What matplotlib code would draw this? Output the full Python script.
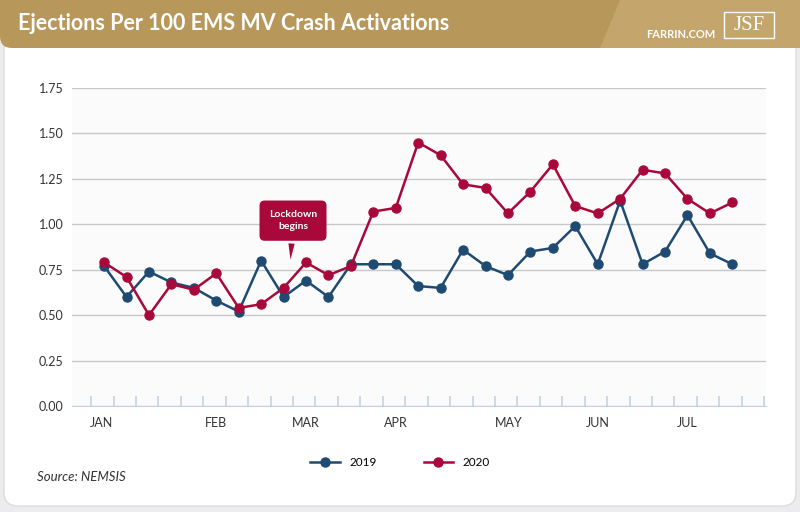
import matplotlib
matplotlib.use("Agg")
import matplotlib.pyplot as plt
from matplotlib.patches import FancyBboxPatch, Rectangle, Polygon
import numpy as np

months = ["JAN", "FEB", "MAR", "APR", "MAY", "JUN", "JUL"]
month_pos = [-0.13, 5, 9, 13, 18.05, 22, 26]
v2019 = [0.77,0.60,0.74,0.68,0.65,0.58,0.52,0.80,0.60,0.69,0.60,0.78,0.78,0.78,0.66,0.65,0.86,0.77,0.72,0.85,0.87,0.99,0.78,1.13,0.78,0.85,1.05,0.84,0.78]
v2020 = [0.79,0.71,0.50,0.67,0.64,0.73,0.54,0.56,0.65,0.79,0.72,0.77,1.07,1.09,1.45,1.38,1.22,1.20,1.06,1.18,1.33,1.10,1.06,1.14,1.30,1.28,1.14,1.06,1.12]
yticks = [0, 0.25, 0.5, 0.75, 1.0, 1.25, 1.5, 1.75]

W, H = 800, 512
fig = plt.figure(figsize=(W/100, H/100), dpi=100)
fig.patch.set_facecolor("#ececee")
bg = fig.add_axes([0, 0, 1, 1]); bg.set_xlim(0, W); bg.set_ylim(H, 0); bg.axis("off")
bg.add_patch(FancyBboxPatch((4, 30), W-8, H-36, boxstyle="round,pad=0,rounding_size=14", fc="white", ec="#dddddd", lw=1))
bg.add_patch(FancyBboxPatch((0, 0), W, 48, boxstyle="round,pad=0,rounding_size=12", fc="#b7975a", ec="none"))
bg.add_patch(Rectangle((0, 0), W, 20, fc="#b7975a", ec="none"))
bg.add_patch(Polygon([[620, 0], [800, 0], [800, 48], [600, 48]], fc="#c4a66c", ec="none"))
bg.text(18, 24, "Ejections Per 100 EMS MV Crash Activations", color="white", fontsize=15.5, fontweight="bold", va="center", family="Lato")
bg.text(715, 34, "FARRIN.COM", color="white", fontsize=8, fontweight="bold", ha="right", va="center", family="Lato")
bg.add_patch(Rectangle((724, 12), 50, 26, fc="none", ec="white", lw=1))
bg.text(749, 25, "JSF", color="white", fontsize=15, ha="center", va="center", family="Liberation Serif")
bg.text(37, 477, "Source: NEMSIS", fontsize=9.5, style="italic", va="center", color="#333333", family="Lato")

x0, x1, y0, y1 = 72, 766, 88, 406
ax = fig.add_axes([x0/W, 1-y1/H, (x1-x0)/W, (y1-y0)/H])
ax.set_facecolor("#fbfbfc")
x = np.arange(len(v2019))
c19, c20 = "#1f4a72", "#a8083a"
ax.plot(x, v2019, "-o", color=c19, lw=1.8, ms=6.5, label="2019", zorder=3)
ax.plot(x, v2020, "-o", color=c20, lw=1.8, ms=6.5, label="2020", zorder=3)
ax.set_xlim(-1.43, 29.5); ax.set_ylim(0, 1.75)
ax.set_yticks(yticks); ax.set_yticklabels([f"{t:.2f}" for t in yticks], fontsize=9, family="Lato", color="#333333")
ax.grid(axis="y", color="#c8c8cc", lw=1)
ax.set_axisbelow(True)
ax.set_xticks(np.arange(-0.58, 29.5, 1), minor=True)
ax.set_xticks(month_pos); ax.set_xticklabels(months, fontsize=9, family="Lato", color="#333333")
ax.tick_params(axis="x", which="major", length=0, pad=8)
ax.tick_params(axis="x", which="minor", length=7, color="#c5d3e3", direction="in", width=1.2)
ax.tick_params(axis="y", length=0, pad=6)
for s in ["top", "right", "left"]:
    ax.spines[s].set_visible(False)
ax.spines["bottom"].set_color("#c5d3e3")
# callout
ax.annotate("Lockdown\nbegins", xy=(8.3, 0.79), xytext=(8.42, 1.02), ha="center", va="center",
            fontsize=7.5, fontweight="bold", color="white", family="Lato", linespacing=1.5,
            bbox=dict(boxstyle="round,pad=0.9,rounding_size=0.5", fc=c20, ec="none"),
            arrowprops=dict(arrowstyle="wedge,tail_width=0.6", fc=c20, ec="none"))
leg = fig.legend(loc="center", bbox_to_anchor=(0.5, 1-463/H), ncol=2, frameon=False,
                 handlelength=2.5, columnspacing=4, prop={"family": "Lato", "size": 8.5})
fig.savefig("out.png", dpi=100, facecolor=fig.get_facecolor())
